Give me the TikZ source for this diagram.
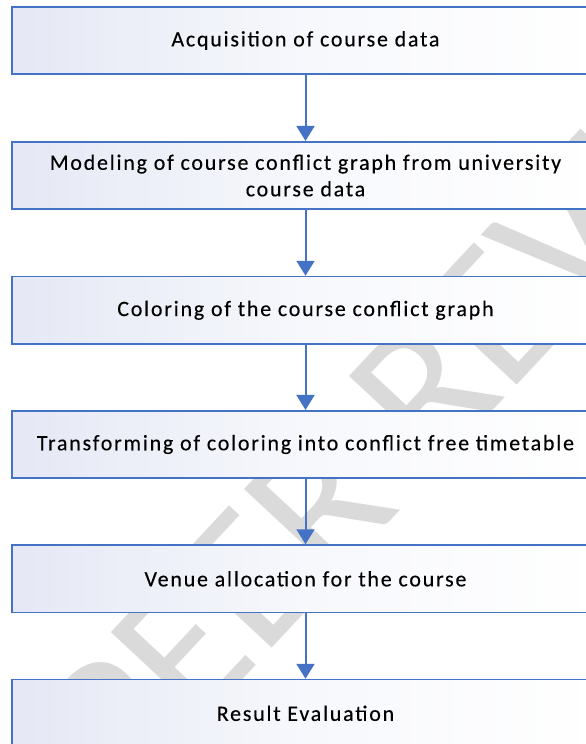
\documentclass[tikz,border=0pt]{standalone}
\usepackage{fontspec}
\setmainfont{Carlito}
\newfontfamily\boxfont[LetterSpace=8,FakeBold=0.25]{Carlito}
\usetikzlibrary{arrows.meta}
\definecolor{boxline}{RGB}{68,114,196}
\definecolor{boxleft}{RGB}{229,232,245}
\definecolor{boxmid}{RGB}{247,248,252}
\definecolor{wmgray}{RGB}{218,218,218}
\begin{document}
\begin{tikzpicture}[x=1pt,y=-1pt,
  stepbox/.style={draw=boxline, line width=1.6pt, left color=boxleft, right color=white, middle color=boxmid,
    minimum width=587pt, minimum height=67.5pt, inner sep=0pt, align=center,
    font=\boxfont\fontsize{22}{26.5}\selectfont, text=black},
  flow/.style={draw=boxline, line width=2pt, -{Triangle[width=18pt,length=15pt]}},
  watermark/.style={text=wmgray, font=\fontsize{200}{200}\selectfont, rotate=47, anchor=west, inner sep=0pt}]
\clip (0,0) rectangle (586,744);
\fill[white] (0,0) rectangle (586,744);
\node[watermark] (wm) at (78,762) {PEER REVIEW};
\node[stepbox] (b1) at (305.5,40.5) {Acquisition of course data};
\node[stepbox] (b2) at (305.5,175.5) {Modeling of course conflict graph from university\\course data};
\node[stepbox] (b3) at (305.5,310.3) {Coloring of the course conflict graph};
\node[stepbox] (b4) at (305.5,444.5) {Transforming of coloring into conflict free timetable};
\node[stepbox] (b5) at (305.5,578.8) {Venue allocation for the course};
\node[stepbox] (b6) at (305.5,713.3) {Result Evaluation};
\draw[flow] (b1.south) -- (b2.north);
\draw[flow] (b2.south) -- (b3.north);
\draw[flow] (b3.south) -- (b4.north);
\draw[flow] (b4.south) -- (b5.north);
\draw[flow] (b5.south) -- (b6.north);
\end{tikzpicture}
\end{document}
